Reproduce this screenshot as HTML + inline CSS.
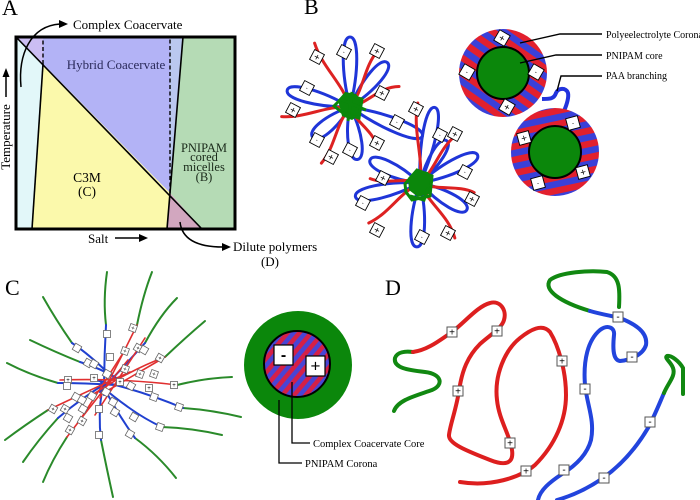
<!DOCTYPE html>
<html><head><meta charset="utf-8"><style>
html,body{margin:0;padding:0;background:#fff;}
svg{display:block;}
</style></head><body>
<svg width="700" height="500" viewBox="0 0 700 500" xmlns="http://www.w3.org/2000/svg" font-family="'Liberation Serif', serif">
<defs>
<pattern id="s1" patternUnits="userSpaceOnUse" width="13" height="13" patternTransform="rotate(35)"><rect width="13" height="13" fill="#3a40d8"/><rect width="13" height="6.5" fill="#e2202e"/></pattern>
<pattern id="s2" patternUnits="userSpaceOnUse" width="13" height="13" patternTransform="rotate(-12)"><rect width="13" height="13" fill="#3a40d8"/><rect width="13" height="6.5" fill="#e2202e"/></pattern>
<pattern id="s3" patternUnits="userSpaceOnUse" width="9" height="9" patternTransform="rotate(-50)"><rect width="9" height="9" fill="#4a44d4"/><rect width="9" height="4.5" fill="#d42048"/></pattern>
</defs>

<!-- ============ PANEL A ============ -->
<text x="2" y="15" font-size="22">A</text>
<polygon points="16,37 43,64 32,229 16,229" fill="#e2f7f9"/>
<polygon points="16,37 43,37 43,64" fill="#cbbdf3"/>
<polygon points="43,37 170,37 170,193 43,64" fill="#b3b3f6"/>
<polygon points="170,37 183,37 170,193" fill="#bac8ef"/>
<polygon points="43,64 170,193 167,229 32,229" fill="#fbf9ab"/>
<polygon points="183,37 235,37 235,229 202,229 170,193" fill="#b5dbb5"/>
<polygon points="170,193 202,229 167,229" fill="#d2a7bf"/>
<g stroke="#000" fill="none">
<line x1="16" y1="37" x2="202" y2="229" stroke-width="1.6"/>
<line x1="32" y1="229" x2="43" y2="64" stroke-width="1.6"/>
<line x1="43" y1="64" x2="43" y2="37" stroke-width="1.4" stroke-dasharray="4,2.5"/>
<polyline points="167,229 170,193 183,37" stroke-width="1.6"/>
<line x1="170" y1="193" x2="170" y2="37" stroke-width="1.4" stroke-dasharray="4,2.5"/>
<rect x="16" y="37" width="219" height="192" stroke-width="3"/>
</g>
<text x="73" y="29" font-size="13">Complex Coacervate</text>
<path d="M21,87 C18,55 30,26 60,24" stroke="#000" stroke-width="1.5" fill="none"/>
<polygon points="68,24 59,20 59,28" fill="#000"/>
<text x="116" y="69" font-size="13" text-anchor="middle" fill="#2a2a5a">Hybrid Coacervate</text>
<text x="87" y="182" font-size="13.5" text-anchor="middle">C3M</text>
<text x="87" y="196" font-size="13.5" text-anchor="middle">(C)</text>
<g font-size="12.5" text-anchor="middle" fill="#1a2a1a">
<text x="204" y="152">PNIPAM</text>
<text x="204" y="161">cored</text>
<text x="204" y="171">micelles</text>
<text x="204" y="181">(B)</text>
</g>
<text transform="translate(10,137) rotate(-90)" font-size="13" text-anchor="middle">Temperature</text>
<line x1="6" y1="97" x2="6" y2="76" stroke="#000" stroke-width="1.5"/>
<polygon points="6,68 2.5,77 9.5,77" fill="#000"/>
<text x="88" y="243" font-size="13">Salt</text>
<line x1="115" y1="238" x2="140" y2="238" stroke="#000" stroke-width="1.6"/>
<polygon points="148,238 139,234 139,242" fill="#000"/>
<path d="M180,222 C182,240 198,247 223,247" stroke="#000" stroke-width="1.5" fill="none"/>
<polygon points="231,247 222,243 222,251" fill="#000"/>
<text x="233" y="251" font-size="13">Dilute polymers</text>
<text x="270" y="266" font-size="13" text-anchor="middle">(D)</text>

<!-- ============ PANEL B ============ -->
<text x="304" y="14" font-size="22">B</text>

<g fill="none" stroke-linecap="round">
<g stroke="#1f35d8" stroke-width="3">
<path transform="translate(350,107) rotate(-90)" d="M0,0 C35,-9 70,-9 70,0 C70,9 35,9 0,0"/>
<path transform="translate(350,107) rotate(-50)" d="M0,0 C29,-9 58,-9 58,0 C58,9 29,9 0,0"/>
<path transform="translate(350,107) rotate(-165)" d="M0,0 C32,-9 65,-9 65,0 C65,9 32,9 0,0"/>
<path transform="translate(350,107) rotate(141)" d="M0,0 C24,-9 48,-9 48,0 C48,9 24,9 0,0"/>
<path transform="translate(350,107) rotate(82)" d="M0,0 C26,-9 53,-9 53,0 C53,9 26,9 0,0"/>
<path transform="translate(350,107) rotate(22)" d="M0,0 C39,-9 78,-9 78,0 C78,9 39,9 0,0"/>
</g>
<g stroke="#dd2222" stroke-width="3">
<path transform="translate(350,107) rotate(-119)" d="M0,0 C25,5 48,-5 73,0"/>
<path transform="translate(350,107) rotate(172)" d="M0,0 C24,5 46,-5 69,0"/>
<path transform="translate(350,107) rotate(117)" d="M0,0 C22,5 42,-5 63,0"/>
<path transform="translate(350,107) rotate(-27)" d="M0,0 C18,5 35,-5 53,4"/>
<path transform="translate(350,107) rotate(-64)" d="M0,0 C22,5 41,-5 62,0"/>
<path transform="translate(350,107) rotate(53)" d="M0,0 C17,5 33,-5 50,3"/>
</g>
<g stroke="#1f35d8" stroke-width="3">
<path transform="translate(420,183) rotate(-79)" d="M0,0 C38,-9 77,-9 77,0 C77,9 38,9 0,0"/>
<path transform="translate(420,183) rotate(-155)" d="M0,0 C27,-9 55,-9 55,0 C55,9 27,9 0,0"/>
<path transform="translate(420,183) rotate(168)" d="M0,0 C33,-9 66,-9 66,0 C66,9 33,9 0,0"/>
<path transform="translate(420,183) rotate(93)" d="M0,0 C32,-9 64,-9 64,0 C64,9 32,9 0,0"/>
<path transform="translate(420,183) rotate(-26)" d="M0,0 C32,-9 64,-9 64,0 C64,9 32,9 0,0"/>
<path transform="translate(420,183) rotate(30)" d="M0,0 C27,-9 54,-9 54,0 C54,9 27,9 0,0"/>
<path transform="translate(420,183) rotate(-58)" d="M0,0 C25,-8 50,-8 50,0 C50,8 25,8 0,0"/>
</g>
<g stroke="#dd2222" stroke-width="3">
<path transform="translate(420,183) rotate(142)" d="M0,0 C22,5 43,-5 65,0"/>
<path transform="translate(420,183) rotate(-175)" d="M0,0 C17,5 33,-5 50,0"/>
<path transform="translate(420,183) rotate(-93)" d="M0,0 C27,5 53,-5 80,2"/>
<path transform="translate(420,183) rotate(-55)" d="M0,0 C21,5 41,-5 62,3"/>
<path transform="translate(420,183) rotate(10)" d="M0,0 C18,5 37,-5 55,0"/>
<path transform="translate(420,183) rotate(55)" d="M0,0 C22,5 43,-5 65,3"/>
</g>
</g>
<polygon points="338,100 345,92 356,94 363,102 360,115 352,120 342,116" fill="#0b870b"/>
<path d="M334,106 L345,95 L362,99 L359,118 L343,113 Z M340,99 L366,110 M352,92 L348,121" stroke="#0b870b" stroke-width="3" fill="none"/>
<polygon points="408,178 416,170 428,172 433,182 429,194 418,197 409,190" fill="#0b870b"/>
<path d="M405,184 L417,170 L432,176 L430,196 L412,200 L406,192 Z M410,196 L424,200 L428,188" stroke="#0b870b" stroke-width="3" fill="none"/>

<g font-family="'Liberation Sans', sans-serif" text-anchor="middle">
<g font-size="10">
<g transform="translate(317,57) rotate(28)"><rect x="-5.5" y="-5.5" width="11" height="11" fill="#fff" stroke="#000" stroke-width="0.9"/><text y="3.5">+</text></g>
<g transform="translate(293,110) rotate(28)"><rect x="-5.5" y="-5.5" width="11" height="11" fill="#fff" stroke="#000" stroke-width="0.9"/><text y="3.5">+</text></g>
<g transform="translate(331,157) rotate(28)"><rect x="-5.5" y="-5.5" width="11" height="11" fill="#fff" stroke="#000" stroke-width="0.9"/><text y="3.5">+</text></g>
<g transform="translate(382,93) rotate(28)"><rect x="-5.5" y="-5.5" width="11" height="11" fill="#fff" stroke="#000" stroke-width="0.9"/><text y="3.5">+</text></g>
<g transform="translate(377,51) rotate(28)"><rect x="-5.5" y="-5.5" width="11" height="11" fill="#fff" stroke="#000" stroke-width="0.9"/><text y="3.5">+</text></g>
<g transform="translate(377,143) rotate(28)"><rect x="-5.5" y="-5.5" width="11" height="11" fill="#fff" stroke="#000" stroke-width="0.9"/><text y="3.5">+</text></g>
<g transform="translate(377,230) rotate(28)"><rect x="-5.5" y="-5.5" width="11" height="11" fill="#fff" stroke="#000" stroke-width="0.9"/><text y="3.5">+</text></g>
<g transform="translate(383,178) rotate(28)"><rect x="-5.5" y="-5.5" width="11" height="11" fill="#fff" stroke="#000" stroke-width="0.9"/><text y="3.5">+</text></g>
<g transform="translate(416,109) rotate(28)"><rect x="-5.5" y="-5.5" width="11" height="11" fill="#fff" stroke="#000" stroke-width="0.9"/><text y="3.5">+</text></g>
<g transform="translate(455,134) rotate(28)"><rect x="-5.5" y="-5.5" width="11" height="11" fill="#fff" stroke="#000" stroke-width="0.9"/><text y="3.5">+</text></g>
<g transform="translate(472,199) rotate(28)"><rect x="-5.5" y="-5.5" width="11" height="11" fill="#fff" stroke="#000" stroke-width="0.9"/><text y="3.5">+</text></g>
<g transform="translate(448,233) rotate(28)"><rect x="-5.5" y="-5.5" width="11" height="11" fill="#fff" stroke="#000" stroke-width="0.9"/><text y="3.5">+</text></g>
</g>
<g font-size="6">
<g transform="translate(344,52) rotate(28)"><rect x="-5.5" y="-5.5" width="11" height="11" fill="#fff" stroke="#000" stroke-width="0.9"/><text y="2">-</text></g>
<g transform="translate(307,88) rotate(28)"><rect x="-5.5" y="-5.5" width="11" height="11" fill="#fff" stroke="#000" stroke-width="0.9"/><text y="2">-</text></g>
<g transform="translate(317,140) rotate(28)"><rect x="-5.5" y="-5.5" width="11" height="11" fill="#fff" stroke="#000" stroke-width="0.9"/><text y="2">-</text></g>
<g transform="translate(350,150) rotate(28)"><rect x="-5.5" y="-5.5" width="11" height="11" fill="#fff" stroke="#000" stroke-width="0.9"/><text y="2">-</text></g>
<g transform="translate(397,122) rotate(28)"><rect x="-5.5" y="-5.5" width="11" height="11" fill="#fff" stroke="#000" stroke-width="0.9"/><text y="2">-</text></g>
<g transform="translate(440,135) rotate(28)"><rect x="-5.5" y="-5.5" width="11" height="11" fill="#fff" stroke="#000" stroke-width="0.9"/><text y="2">-</text></g>
<g transform="translate(465,172) rotate(28)"><rect x="-5.5" y="-5.5" width="11" height="11" fill="#fff" stroke="#000" stroke-width="0.9"/><text y="2">-</text></g>
<g transform="translate(363,203) rotate(28)"><rect x="-5.5" y="-5.5" width="11" height="11" fill="#fff" stroke="#000" stroke-width="0.9"/><text y="2">-</text></g>
<g transform="translate(422,237) rotate(28)"><rect x="-5.5" y="-5.5" width="11" height="11" fill="#fff" stroke="#000" stroke-width="0.9"/><text y="2">-</text></g>
</g>
</g>

<path d="M542,99 C550,99 554,99 556,93 C558,88 566,87 568,93 C569,98 567,104 564,111" stroke="#2233dd" stroke-width="4" fill="none"/>
<circle cx="503" cy="73" r="44" fill="url(#s1)"/>
<circle cx="503" cy="73" r="26" fill="#0b870b" stroke="#000" stroke-width="2"/>
<circle cx="555" cy="152" r="44" fill="url(#s2)"/>
<circle cx="555" cy="152" r="26" fill="#0b870b" stroke="#000" stroke-width="2"/>
<g font-family="'Liberation Sans', sans-serif" text-anchor="middle">
<g transform="translate(502,38) rotate(30)"><rect x="-6" y="-6" width="12" height="12" fill="#fff" stroke="#000" stroke-width="0.9"/><text y="3.5" font-size="10">+</text></g>
<g transform="translate(467,72) rotate(30)"><rect x="-6" y="-6" width="12" height="12" fill="#fff" stroke="#000" stroke-width="0.9"/><text y="2" font-size="6">-</text></g>
<g transform="translate(536,72) rotate(30)"><rect x="-6" y="-6" width="12" height="12" fill="#fff" stroke="#000" stroke-width="0.9"/><text y="2" font-size="6">-</text></g>
<g transform="translate(507,107) rotate(30)"><rect x="-6" y="-6" width="12" height="12" fill="#fff" stroke="#000" stroke-width="0.9"/><text y="3.5" font-size="10">+</text></g>
<g transform="translate(573,123) rotate(-15)"><rect x="-6" y="-6" width="12" height="12" fill="#fff" stroke="#000" stroke-width="0.9"/><text y="2" font-size="6">-</text></g>
<g transform="translate(524,138) rotate(-15)"><rect x="-6" y="-6" width="12" height="12" fill="#fff" stroke="#000" stroke-width="0.9"/><text y="3.5" font-size="10">+</text></g>
<g transform="translate(583,172) rotate(-15)"><rect x="-6" y="-6" width="12" height="12" fill="#fff" stroke="#000" stroke-width="0.9"/><text y="3.5" font-size="10">+</text></g>
<g transform="translate(538,183) rotate(-15)"><rect x="-6" y="-6" width="12" height="12" fill="#fff" stroke="#000" stroke-width="0.9"/><text y="2" font-size="6">-</text></g>
</g>
<g stroke="#000" stroke-width="1.4" fill="none">
<polyline points="520,43 560,34 602,34"/>
<polyline points="520,63 556,55 602,55"/>
<polyline points="557,91 561,76 602,76"/>
</g>
<g font-size="10">
<text x="606" y="38">Polyeelectrolyte Corona</text>
<text x="606" y="59">PNIPAM core</text>
<text x="606" y="79">PAA branching</text>
</g>

<!-- ============ PANEL C ============ -->
<text x="5" y="295" font-size="22">C</text>
<g fill="none" stroke-linecap="round">
<g stroke="#2a8a2a" stroke-width="2">
<path d="M106,325 Q103,300 107,272"/>
<path d="M137,325 Q143,295 152,272"/>
<path d="M145,343 Q160,315 177,298"/>
<path d="M165,357 Q185,338 205,321"/>
<path d="M177,385 Q205,378 232,377"/>
<path d="M183,408 Q212,410 241,417"/>
<path d="M162,427 Q192,428 222,435"/>
<path d="M135,438 Q158,455 176,478"/>
<path d="M101,440 Q107,470 113,497"/>
<path d="M67,437 Q52,460 43,482"/>
<path d="M58,418 Q38,440 23,462"/>
<path d="M48,410 Q25,425 5,440"/>
<path d="M58,383 Q30,375 7,363"/>
<path d="M80,362 Q55,352 30,340"/>
<path d="M72,343 Q56,320 43,297"/>
</g>
<g stroke="#2040d0" stroke-width="2">
<path d="M104,395 Q104,360 106,325"/>
<path d="M100,392 Q125,365 145,343"/>
<path d="M95,380 Q140,390 183,408"/>
<path d="M100,385 Q135,415 162,427"/>
<path d="M100,380 Q115,410 135,438"/>
<path d="M102,390 Q98,415 101,440"/>
<path d="M115,378 Q85,395 58,418"/>
<path d="M115,385 Q85,383 58,383"/>
<path d="M120,380 Q100,368 80,362"/>
<path d="M110,375 Q90,355 72,343"/>
</g>
<g stroke="#e03030" stroke-width="1.6">
<path d="M100,398 Q120,360 137,325"/>
<path d="M92,395 Q130,370 165,357"/>
<path d="M60,380 Q120,378 177,385"/>
<path d="M128,360 Q95,400 67,437"/>
<path d="M130,372 Q90,390 48,410"/>
<path d="M145,338 L95,415"/>
<path d="M125,350 L80,420"/>
<path d="M160,360 L100,395"/>
</g>
</g>
<g font-family="'Liberation Sans', sans-serif" text-anchor="middle" font-size="6">
<g transform="translate(107,334)"><rect x="-3.5" y="-3.5" width="7" height="7" fill="#fff" stroke="#666" stroke-width="0.8"/></g>
<g transform="translate(133,328) rotate(20)"><rect x="-3.5" y="-3.5" width="7" height="7" fill="#fff" stroke="#666" stroke-width="0.8"/><text y="2">+</text></g>
<g transform="translate(77,348) rotate(30)"><rect x="-3.5" y="-3.5" width="7" height="7" fill="#fff" stroke="#666" stroke-width="0.8"/></g>
<g transform="translate(110,357)"><rect x="-3.5" y="-3.5" width="7" height="7" fill="#fff" stroke="#666" stroke-width="0.8"/></g>
<g transform="translate(125,351) rotate(20)"><rect x="-3.5" y="-3.5" width="7" height="7" fill="#fff" stroke="#666" stroke-width="0.8"/><text y="2">+</text></g>
<g transform="translate(138,348) rotate(30)"><rect x="-3.5" y="-3.5" width="7" height="7" fill="#fff" stroke="#666" stroke-width="0.8"/><text y="2">+</text></g>
<g transform="translate(144,350) rotate(30)"><rect x="-3.5" y="-3.5" width="7" height="7" fill="#fff" stroke="#666" stroke-width="0.8"/></g>
<g transform="translate(160,358) rotate(30)"><rect x="-3.5" y="-3.5" width="7" height="7" fill="#fff" stroke="#666" stroke-width="0.8"/><text y="2">+</text></g>
<g transform="translate(88,363) rotate(30)"><rect x="-3.5" y="-3.5" width="7" height="7" fill="#fff" stroke="#666" stroke-width="0.8"/></g>
<g transform="translate(94,364) rotate(30)"><rect x="-3.5" y="-3.5" width="7" height="7" fill="#fff" stroke="#666" stroke-width="0.8"/></g>
<g transform="translate(125,369) rotate(20)"><rect x="-3.5" y="-3.5" width="7" height="7" fill="#fff" stroke="#666" stroke-width="0.8"/><text y="2">+</text></g>
<g transform="translate(140,374) rotate(20)"><rect x="-3.5" y="-3.5" width="7" height="7" fill="#fff" stroke="#666" stroke-width="0.8"/><text y="2">+</text></g>
<g transform="translate(154,374) rotate(20)"><rect x="-3.5" y="-3.5" width="7" height="7" fill="#fff" stroke="#666" stroke-width="0.8"/><text y="2">+</text></g>
<g transform="translate(107,374) rotate(30)"><rect x="-3.5" y="-3.5" width="7" height="7" fill="#fff" stroke="#666" stroke-width="0.8"/></g>
<g transform="translate(68,380)"><rect x="-3.5" y="-3.5" width="7" height="7" fill="#fff" stroke="#666" stroke-width="0.8"/><text y="2">+</text></g>
<g transform="translate(94,378)"><rect x="-3.5" y="-3.5" width="7" height="7" fill="#fff" stroke="#666" stroke-width="0.8"/><text y="2">+</text></g>
<g transform="translate(120,382)"><rect x="-3.5" y="-3.5" width="7" height="7" fill="#fff" stroke="#666" stroke-width="0.8"/><text y="2">+</text></g>
<g transform="translate(131,386) rotate(30)"><rect x="-3.5" y="-3.5" width="7" height="7" fill="#fff" stroke="#666" stroke-width="0.8"/></g>
<g transform="translate(174,385)"><rect x="-3.5" y="-3.5" width="7" height="7" fill="#fff" stroke="#666" stroke-width="0.8"/><text y="2">+</text></g>
<g transform="translate(67,386)"><rect x="-3.5" y="-3.5" width="7" height="7" fill="#fff" stroke="#666" stroke-width="0.8"/></g>
<g transform="translate(149,388)"><rect x="-3.5" y="-3.5" width="7" height="7" fill="#fff" stroke="#666" stroke-width="0.8"/><text y="2">+</text></g>
<g transform="translate(106,392) rotate(30)"><rect x="-3.5" y="-3.5" width="7" height="7" fill="#fff" stroke="#666" stroke-width="0.8"/></g>
<g transform="translate(154,397) rotate(20)"><rect x="-3.5" y="-3.5" width="7" height="7" fill="#fff" stroke="#666" stroke-width="0.8"/></g>
<g transform="translate(76,397) rotate(30)"><rect x="-3.5" y="-3.5" width="7" height="7" fill="#fff" stroke="#666" stroke-width="0.8"/></g>
<g transform="translate(82,400) rotate(30)"><rect x="-3.5" y="-3.5" width="7" height="7" fill="#fff" stroke="#666" stroke-width="0.8"/></g>
<g transform="translate(92,396) rotate(30)"><rect x="-3.5" y="-3.5" width="7" height="7" fill="#fff" stroke="#666" stroke-width="0.8"/></g>
<g transform="translate(113,402) rotate(30)"><rect x="-3.5" y="-3.5" width="7" height="7" fill="#fff" stroke="#666" stroke-width="0.8"/></g>
<g transform="translate(179,407) rotate(20)"><rect x="-3.5" y="-3.5" width="7" height="7" fill="#fff" stroke="#666" stroke-width="0.8"/></g>
<g transform="translate(53,409) rotate(30)"><rect x="-3.5" y="-3.5" width="7" height="7" fill="#fff" stroke="#666" stroke-width="0.8"/><text y="2">+</text></g>
<g transform="translate(65,409) rotate(30)"><rect x="-3.5" y="-3.5" width="7" height="7" fill="#fff" stroke="#666" stroke-width="0.8"/><text y="2">+</text></g>
<g transform="translate(83,409) rotate(30)"><rect x="-3.5" y="-3.5" width="7" height="7" fill="#fff" stroke="#666" stroke-width="0.8"/></g>
<g transform="translate(99,409)"><rect x="-3.5" y="-3.5" width="7" height="7" fill="#fff" stroke="#666" stroke-width="0.8"/></g>
<g transform="translate(115,412) rotate(30)"><rect x="-3.5" y="-3.5" width="7" height="7" fill="#fff" stroke="#666" stroke-width="0.8"/></g>
<g transform="translate(68,418) rotate(30)"><rect x="-3.5" y="-3.5" width="7" height="7" fill="#fff" stroke="#666" stroke-width="0.8"/></g>
<g transform="translate(82,421) rotate(30)"><rect x="-3.5" y="-3.5" width="7" height="7" fill="#fff" stroke="#666" stroke-width="0.8"/><text y="2">+</text></g>
<g transform="translate(134,417) rotate(30)"><rect x="-3.5" y="-3.5" width="7" height="7" fill="#fff" stroke="#666" stroke-width="0.8"/></g>
<g transform="translate(160,427) rotate(20)"><rect x="-3.5" y="-3.5" width="7" height="7" fill="#fff" stroke="#666" stroke-width="0.8"/></g>
<g transform="translate(70,430) rotate(30)"><rect x="-3.5" y="-3.5" width="7" height="7" fill="#fff" stroke="#666" stroke-width="0.8"/><text y="2">+</text></g>
<g transform="translate(99,435)"><rect x="-3.5" y="-3.5" width="7" height="7" fill="#fff" stroke="#666" stroke-width="0.8"/></g>
<g transform="translate(130,434) rotate(30)"><rect x="-3.5" y="-3.5" width="7" height="7" fill="#fff" stroke="#666" stroke-width="0.8"/></g>
</g>

<circle cx="298" cy="365" r="54" fill="#0b870b"/>
<circle cx="297" cy="364" r="33" fill="url(#s3)" stroke="#000" stroke-width="2"/>
<g font-family="'Liberation Sans', sans-serif" text-anchor="middle">
<rect x="274" y="345" width="19" height="20" fill="#fff" stroke="#000" stroke-width="1.2"/>
<text x="283.5" y="360" font-size="16" font-weight="bold">-</text>
<rect x="306" y="356" width="19" height="20" fill="#fff" stroke="#000" stroke-width="1.2"/>
<text x="315.5" y="371.5" font-size="17">+</text>
</g>
<g stroke="#000" stroke-width="1.3" fill="none">
<polyline points="292,382 292,443 310,443"/>
<polyline points="279,400 279,463 302,463"/>
</g>
<text x="313" y="447" font-size="10.5">Complex Coacervate Core</text>
<text x="305" y="467" font-size="10.5">PNIPAM Corona</text>

<!-- ============ PANEL D ============ -->
<text x="385" y="295" font-size="22">D</text>
<g fill="none" stroke-width="4" stroke-linecap="round">
<path stroke="#118811" d="M394,411 C398,400 415,396 432,390 C444,385 442,374 425,372 C408,370 393,368 395,358 C397,352 405,351 413,352"/>
<path stroke="#dd1f1f" d="M413,352 C428,350 440,340 452,332 C465,322 478,306 490,303 C500,300 507,310 504,320 C502,328 490,335 480,344 C468,356 462,370 459,391 C456,410 450,425 449,435 C448,444 470,452 490,460 C505,466 514,464 512,450 C510,435 499,420 497,400 C494,375 505,350 520,338 C530,330 542,323 550,332 C558,345 566,370 566,395 C566,420 555,445 535,465 C520,478 490,487 460,482"/>
<path stroke="#118811" d="M619,307 C620,290 620,276 607,272 C590,270 560,272 550,280 C543,290 560,302 590,311"/>
<path stroke="#2244dd" d="M590,311 C600,314 612,316 620,318 C635,324 648,332 646,345 C643,355 630,360 620,361 C612,360 613,345 614,335 C615,328 608,324 600,330 C588,340 583,360 585,385 C587,405 595,420 591,440 C587,455 575,466 562,474 C550,482 540,490 538,500"/>
<path stroke="#2244dd" d="M557,500 C575,495 590,487 603,478 C620,466 635,450 648,428 C655,415 660,402 664,393"/>
<path stroke="#118811" d="M664,393 C668,383 676,376 673,368 C671,362 664,358 667,356 C671,355 679,361 683,368 L683,394"/>
</g>
<g font-family="'Liberation Sans', sans-serif" text-anchor="middle" font-size="10">
<g transform="translate(452,332)"><rect x="-5" y="-5" width="10" height="10" fill="#fff" stroke="#555" stroke-width="1"/><text y="3.5">+</text></g>
<g transform="translate(497,331)"><rect x="-5" y="-5" width="10" height="10" fill="#fff" stroke="#555" stroke-width="1"/><text y="3.5">+</text></g>
<g transform="translate(458,391)"><rect x="-5" y="-5" width="10" height="10" fill="#fff" stroke="#555" stroke-width="1"/><text y="3.5">+</text></g>
<g transform="translate(510,443)"><rect x="-5" y="-5" width="10" height="10" fill="#fff" stroke="#555" stroke-width="1"/><text y="3.5">+</text></g>
<g transform="translate(562,361)"><rect x="-5" y="-5" width="10" height="10" fill="#fff" stroke="#555" stroke-width="1"/><text y="3.5">+</text></g>
<g transform="translate(526,471)"><rect x="-5" y="-5" width="10" height="10" fill="#fff" stroke="#555" stroke-width="1"/><text y="3.5">+</text></g>
<g transform="translate(618,317)"><rect x="-5" y="-5" width="10" height="10" fill="#fff" stroke="#555" stroke-width="1"/><text y="3">-</text></g>
<g transform="translate(632,357)"><rect x="-5" y="-5" width="10" height="10" fill="#fff" stroke="#555" stroke-width="1"/><text y="3">-</text></g>
<g transform="translate(585,389)"><rect x="-5" y="-5" width="10" height="10" fill="#fff" stroke="#555" stroke-width="1"/><text y="3">-</text></g>
<g transform="translate(564,470)"><rect x="-5" y="-5" width="10" height="10" fill="#fff" stroke="#555" stroke-width="1"/><text y="3">-</text></g>
<g transform="translate(604,478)"><rect x="-5" y="-5" width="10" height="10" fill="#fff" stroke="#555" stroke-width="1"/><text y="3">-</text></g>
<g transform="translate(650,422)"><rect x="-5" y="-5" width="10" height="10" fill="#fff" stroke="#555" stroke-width="1"/><text y="3">-</text></g>
</g>
</svg>
</body></html>
